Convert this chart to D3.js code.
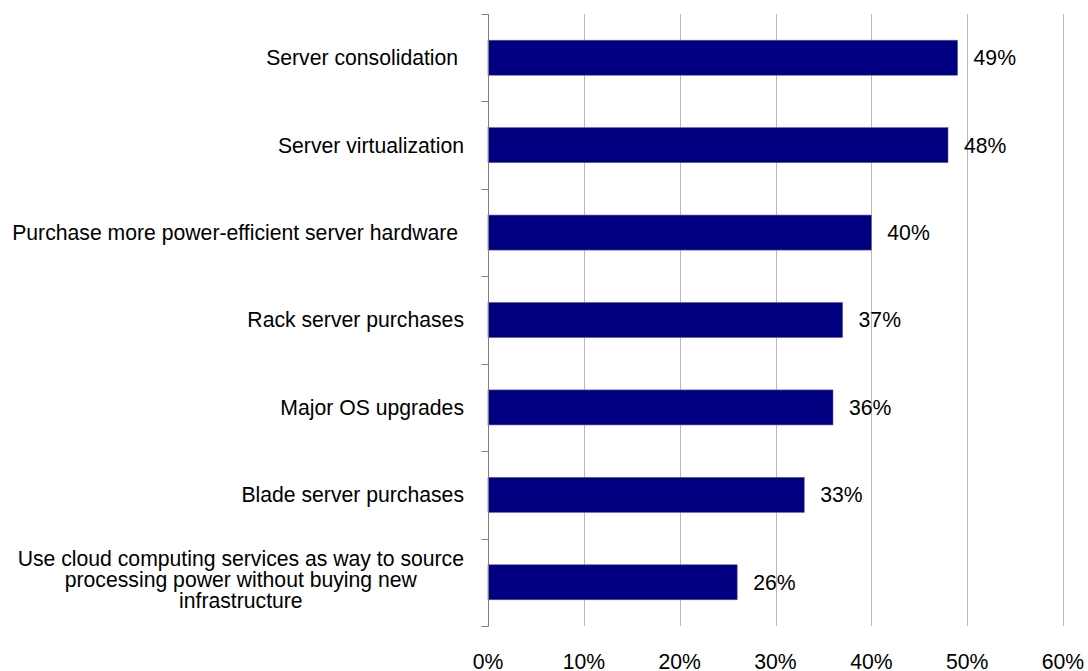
<!DOCTYPE html>
<html>
<head>
<meta charset="utf-8">
<script src="https://cdn.jsdelivr.net/npm/d3@7"></script>
<style>
  body { margin: 0; background: #fff; }
  text { font-family: "Liberation Sans", Arial, sans-serif; font-size: 21.2px; fill: #000; white-space: pre; }
</style>
</head>
<body>
<svg id="chart" width="1088" height="671"></svg>
<script>
// data
const categories = [
  'Server consolidation ',
  'Server virtualization',
  'Purchase more power-efficient server hardware ',
  'Rack server purchases',
  'Major OS upgrades',
  'Blade server purchases',
  'Use cloud computing services as way to source\nprocessing power without buying new\ninfrastructure'
]
const values = [49, 48, 40, 37, 36, 33, 26]
const xTicks = [0, 10, 20, 30, 40, 50, 60]

const svg = d3.select('#chart')

const plotLeft = 488
const plotRight = 1063
const plotTop = 14
const plotBottom = 626

const x = d3.scaleLinear().domain([0, 60]).range([plotLeft, plotRight])
const band = d3.scaleBand().domain(categories).range([plotTop, plotBottom])
const barH = 35

// gridlines
svg.append('g')
  .selectAll('line')
  .data(xTicks.slice(1))
  .join('line')
  .attr('x1', d => Math.round(x(d)) + 0.5)
  .attr('x2', d => Math.round(x(d)) + 0.5)
  .attr('y1', plotTop)
  .attr('y2', plotBottom)
  .attr('stroke', '#b8b8b8')
  .attr('stroke-width', 1)

// bars
svg.append('g')
  .selectAll('rect')
  .data(values)
  .join('rect')
  .attr('x', x(0))
  .attr('y', (d, i) => band(categories[i]) + band.bandwidth() / 2 - barH / 2)
  .attr('width', d => x(d) - x(0))
  .attr('height', barH)
  .attr('fill', '#000080')
  .attr('stroke', '#5a5aa8')
  .attr('stroke-width', 0.6)

// value labels
svg.append('g')
  .selectAll('text')
  .data(values)
  .join('text')
  .attr('x', d => x(d) + 16)
  .attr('y', (d, i) => band(categories[i]) + band.bandwidth() / 2)
  .attr('dy', '0.35em')
  .text(d => d + '%')

// y axis: tick marks at category edges
const yAxisG = svg.append('g').attr('transform', `translate(${plotLeft + 0.5},0)`)
const edges = categories.map(c => band(c)).concat([plotBottom])
yAxisG.selectAll('line.edge')
  .data(edges)
  .join('line')
  .attr('class', 'edge')
  .attr('x1', -7)
  .attr('x2', 0)
  .attr('y1', d => Math.round(d) + 0.5)
  .attr('y2', d => Math.round(d) + 0.5)
  .attr('stroke', '#7f7f7f')
yAxisG.append('line')
  .attr('x1', 0).attr('x2', 0)
  .attr('y1', plotTop).attr('y2', plotBottom + 0.5)
  .attr('stroke', '#7f7f7f')

// category labels
const labelRight = 464
categories.forEach((c, i) => {
  const lines = c.split('\n')
  const cy = band(c) + band.bandwidth() / 2
  const g = svg.append('text')
  if (lines.length === 1) {
    g.attr('x', labelRight).attr('y', cy).attr('dy', '0.35em')
      .attr('text-anchor', 'end').text(c)
  } else {
    // wrapped label: lines centred on each other, block right edge at labelRight
    const lh = 21
    const base0 = cy + 5 - (lines.length - 1) * lh / 2
    g.attr('text-anchor', 'middle')
    lines.forEach((l, j) => {
      g.append('tspan').attr('y', base0 + j * lh).text(l)
    })
    const w = d3.max(g.selectAll('tspan').nodes(), n => n.getComputedTextLength())
    g.selectAll('tspan').attr('x', labelRight - w / 2)
  }
})

// x tick labels
svg.append('g')
  .selectAll('text')
  .data(xTicks)
  .join('text')
  .attr('x', d => x(d))
  .attr('y', 669)
  .attr('text-anchor', 'middle')
  .text(d => d + '%')
</script>
</body>
</html>
